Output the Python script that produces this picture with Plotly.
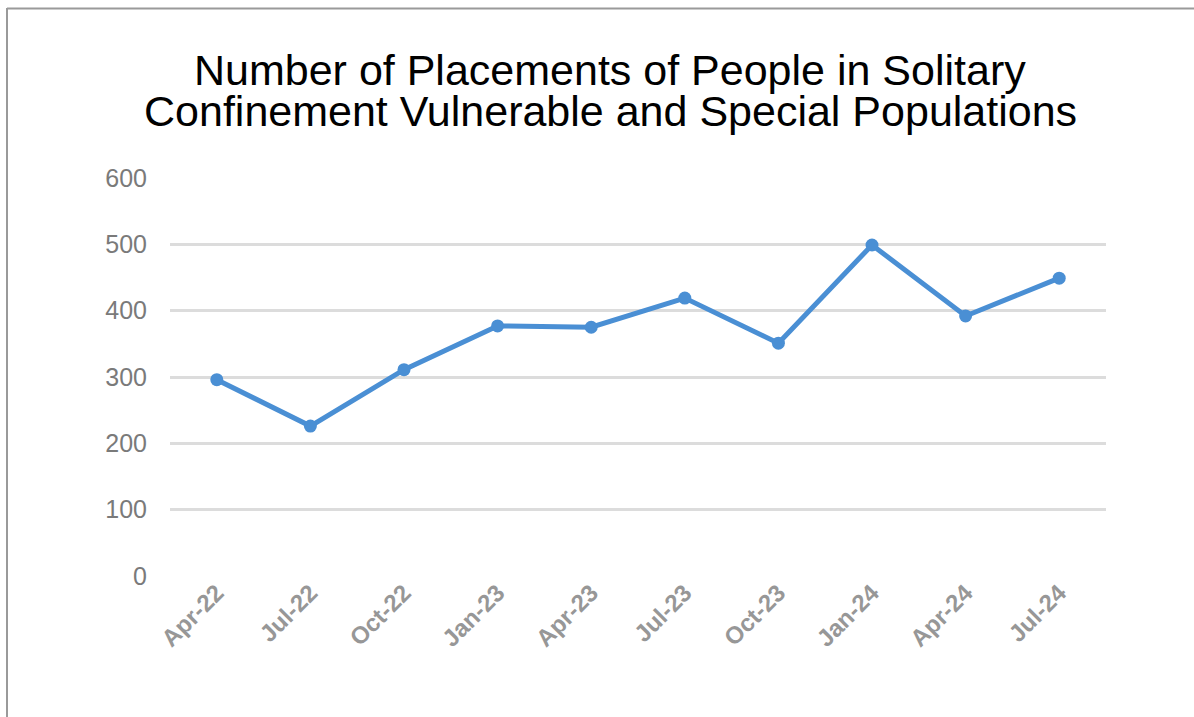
import plotly.graph_objects as go

categories = ["Apr-22", "Jul-22", "Oct-22", "Jan-23", "Apr-23", "Jul-23", "Oct-23", "Jan-24", "Apr-24", "Jul-24"]
placements = [296, 226, 311, 377, 375, 419, 351, 499, 392, 449]
y_ticks = [0, 100, 200, 300, 400, 500, 600]
title_lines = ["Number of Placements of People in Solitary",
               "Confinement Vulnerable and Special Populations"]

W, H = 1194, 717
L, R, T, B = 170, 88, 178, 141
pw, ph = W - L - R, H - T - B

def px(x):
    return (x - L) / pw

def py(y):
    return (H - B - y) / ph

fig = go.Figure()
fig.add_trace(go.Scatter(
    x=categories, y=placements, mode="lines+markers",
    line=dict(color="#4a8fd4", width=5),
    marker=dict(color="#4a8fd4", size=13),
    cliponaxis=False, showlegend=False,
))

annotations = []
for i, (line, yc) in enumerate(zip(title_lines, [70, 111])):
    annotations.append(dict(
        text=line, xref="paper", yref="paper", x=px(610), y=py(yc),
        xanchor="center", yanchor="middle", showarrow=False,
        font=dict(family="Arial, Liberation Sans", size=43, color="black"),
    ))

fig.update_layout(
    width=W, height=H,
    margin=dict(l=L, r=R, t=T, b=B),
    paper_bgcolor="white", plot_bgcolor="white",
    annotations=annotations,
    xaxis=dict(
        type="category", range=[-0.5, 9.5],
        showgrid=False, zeroline=False, showline=False,
        tickangle=-45,
        tickfont=dict(family="Arial, Liberation Sans", size=24, color="#979797", weight="bold"),
        ticks="", ticklabelstandoff=-3,
    ),
    yaxis=dict(
        range=[0, 600], tickvals=y_ticks,
        showgrid=True, gridcolor="#dcdcdc", gridwidth=2.5,
        zeroline=False, showline=False,
        tickfont=dict(family="Arial, Liberation Sans", size=25, color="#7a7a7a"),
        ticks="", ticklabelstandoff=22,
    ),
    shapes=[
        dict(type="line", xref="paper", yref="paper", x0=px(7), x1=px(W), y0=py(8.5), y1=py(8.5),
             line=dict(color="#9a9a9a", width=2)),
        dict(type="line", xref="paper", yref="paper", x0=px(7), x1=px(7), y0=py(8), y1=py(H),
             line=dict(color="#9a9a9a", width=2)),
    ],
)

fig.write_html("out.html")
